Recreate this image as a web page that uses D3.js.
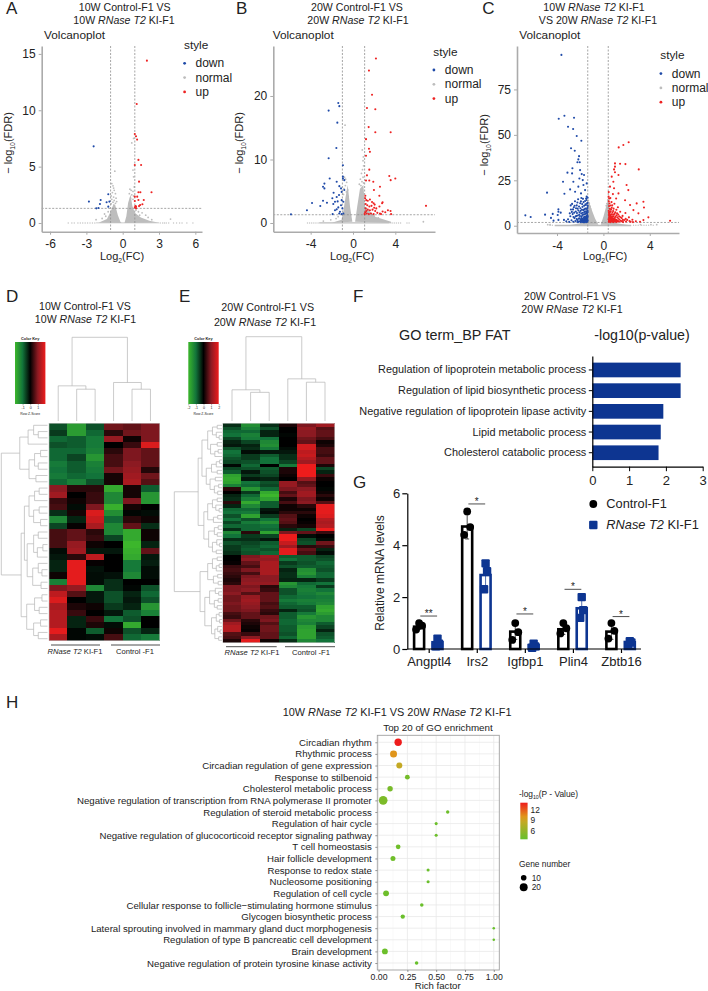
<!DOCTYPE html>
<html>
<head>
<meta charset="utf-8">
<script src="https://cdn.jsdelivr.net/npm/d3@7"></script>
<style>
  body { margin: 0; background: #fff; }
  text { font-family: "Liberation Sans", Arial, sans-serif; fill: #222; }
</style>
</head>
<body>
<svg id="fig" width="708" height="991"></svg>
<script>
// volcano A (log2FC, -log10FDR)
let aDown = [[-2.4,6.8],[-1.19,2.55],[-1.82,2.04],[-2.79,1.9],[-1.88,1.69],[-1.1,1.9],[-1.33,1.84],[-1.19,1.45],[-2.18,1.3],[-2,1.33]]
let aUp = [[2,14.4],[1.16,10.55],[1,7.9],[1.1,7.7],[1.19,7.4],[1.3,5.6],[1,5.15],[1.52,5.15],[1.35,3.67],[1.3,2.73],[1.46,2.73],[2.38,2.73],[1,2.34],[1.2,2.34],[1.3,2.04],[1,1.95],[1.74,2.04],[1.44,1.6],[1.63,1.66],[1.05,1.5],[1.1,1.45],[1.35,1.5],[1,1.4],[1.1,1.3]]
let aNormal = [[-0.65,4.6],[-0.9,3.5],[-0.8,3.3],[-0.75,3.1],[-0.7,2.9],[-0.85,2.7],[-0.6,2.6],[-0.95,2.4],[-0.75,2.3],[-0.55,2.2],[-0.9,2.1],[-0.7,2],[-0.5,1.9],[-0.8,1.85],[-0.95,1.7],[-0.6,1.75],[-1.2,1],[0.75,7.1],[0.9,7.5],[0.85,4.7],[0.9,4.1],[0.6,3],[0.7,2.9],[0.85,2.8],[0.55,2.6],[0.75,2.5],[0.9,2.4],[0.95,3.2],[0.65,2.2],[0.85,2.1],[1.3,1],[1.6,0.9],[1.9,0.7],[2.1,0.5],[2.4,0.3],[3.95,0.35],[-2.2,0.3],[-1.5,0.8],[-1.4,0.6],[-1.7,0.4],[1.1,1.15],[1.4,0.7]]
let aWingL = [[-2,0.02],[-1.3,0.35],[-1,1],[-0.75,1.7],[-0.62,1.6],[-0.4,0.7],[-0.18,0.1],[-0.1,0]]
let aWingR = [[0.15,0],[0.3,0.6],[0.45,1.8],[0.65,2.5],[0.8,1.5],[1,0.9],[1.5,0.5],[2.2,0.2],[3,0.03]]
let aBase = [-4.5,-4.2,-4,-3.7,-3.5,-3.3,-3.1,-2.9,-2.7,-2.5,-2.3,3.1,3.3,3.45,3.6,3.8,4.2,4.45,4.7,4.9,5.3,5.8]

// volcano B
let bDown = [[-1.39,18.9],[-1.29,18.4],[-2.3,17.7],[-1.48,15.8],[-1.57,11.8],[-2.3,10.2],[-0.95,9.1],[-0.95,7.3],[-0.82,6.75],[-2.2,7],[-1.54,6.5],[-2.7,6.2],[-2.83,5.7],[-2.7,5.45],[-1.29,5.8],[-1.13,5.45],[-0.82,5.2],[-1.83,4.76],[-1.07,4.9],[-3.87,3.14],[-2.83,3.5],[-2.46,3.2],[-3.09,2.67],[-1.95,3.9],[-1.54,4.1],[-1.32,4.4],[-1.7,3.35],[-1.86,3],[-1.45,3.4],[-1.07,3.6],[-0.91,3.35],[-4.35,2],[-5.86,1.36],[-1.92,1.4],[-1.7,2],[-1.39,2.46],[-1.13,2.8],[-1,2.3],[-1.23,1.78],[-0.91,1.5],[-1.3,1.5],[-1.07,1.4],[-1.54,2.15],[-0.95,7]]
let bUp = [[2.17,25.9],[1.51,24],[1.8,20.2],[1.32,18.1],[2.11,17.9],[1.48,15.1],[2.11,14.3],[3.56,14.3],[1.23,13.2],[1.51,11.7],[1.6,11.2],[1.23,10.6],[1.54,8.4],[1.32,7.5],[3.43,7.4],[3.56,6.75],[4,7],[1.23,6.7],[1.54,6.7],[1.92,6.5],[2.55,5.7],[1.98,5.2],[1.17,4.3],[2.49,4.3],[6.9,2.7],[2.8,3.25],[1.15,3.9],[1.25,3.6],[1.4,3.5],[1.6,3.7],[1.8,3.3],[1.95,3.1],[2.05,2.9],[1.2,3],[1.35,2.8],[1.55,2.6],[1.75,2.7],[2,2.4],[1.2,2.3],[1.4,2.1],[1.6,2],[1.85,2.1],[2.1,1.9],[2.3,1.6],[2.55,1.5],[2.8,1.8],[3.05,1.7],[3.3,2],[3.55,1.9],[1.15,1.7],[1.3,1.5],[1.5,1.4],[1.7,1.5],[1.95,1.4],[2.2,2.3],[2.5,2.6],[2.75,3.1],[3.6,1.4],[1.1,1.4],[1.25,1.9],[2.65,1.4]]
let bNormal = [[-0.75,15.4],[-0.8,7.2],[-0.7,6.9],[-0.6,6.4],[-0.72,5.9],[-0.85,5.4],[-0.5,5.2],[-0.62,4.9],[-0.9,4.5],[-0.45,4.2],[0.98,10.4],[0.88,11.5],[0.95,9.8],[1,9],[0.9,8.4],[0.8,7.8],[0.95,7.2],[0.7,6.9],[0.85,6.5],[1,6.3],[0.6,6.1],[0.75,5.9],[1.1,3],[1.3,1.9],[1.6,1.2],[2,1.1],[2.4,0.8],[-1.4,1],[-1.6,0.7],[-2.1,0.5],[-2.8,0.3],[6.65,0.2]]
let bWingL = [[-2,0.05],[-1.07,0.5],[-0.9,2],[-0.7,4.1],[-0.5,6],[-0.28,2.6],[-0.06,0.2]]
let bWingR = [[0.2,0.2],[0.4,2.6],[0.66,5.4],[0.98,6],[1.13,2.6],[2.1,1],[3.6,0.2],[3.6,0]]
let bBase = [-4.3,-4.1,-3.9,-3.7,-3.5,-3.3,3.5,3.7,3.9,4.1,4.3,4.5,5.1,5.3]

// volcano C
let cDown = [[-3.62,94],[-3.36,60.5],[-3.85,58.9],[-2.53,59.4],[-3.05,54.5],[-2.61,53.2],[-2.3,49.4],[-1.9,46.8],[-2.79,42.6],[-2.47,41.3],[-2.1,38.3],[-2.16,36.5],[-2.24,34.9],[-2.04,34.9],[-2.67,31.6],[-2.01,30.6],[-3.1,29.2],[-2.7,28.8],[-1.87,28.4],[-1.67,27.9],[-3.48,24.2],[-2.59,24.2],[-2.07,26],[-1.78,25.1],[-4.86,18.2],[-2.87,20],[-3.36,17.6],[-2.44,18.7],[-2.16,21.5],[-1.72,22.4],[-1.44,23.3],[-1.58,19.6],[-1.93,17.8],[-1.44,16],[-6.73,5.7],[-6.27,4.8],[-5.03,6.1],[-3.88,9],[-3.88,7.7],[-4.37,6.5],[-3.94,5.9],[-3.68,7.2],[-4.52,4.3],[-3.88,3.2],[-4.3,2.8],[-3.4,3.2],[-3.2,2.4],[-3.05,3.6],[-2.95,2.1],[-2.85,5.2],[-2.8,8.9],[-2.75,3],[-2.7,12],[-2.65,6.4],[-2.6,2.2],[-2.55,10.2],[-2.5,4.2],[-2.45,13.5],[-2.42,2.6],[-2.38,7.8],[-2.33,5.4],[-2.3,11.2],[-2.25,3.1],[-2.22,9.4],[-2.18,14.6],[-2.12,2.3],[-2.08,6.2],[-2.04,4.1],[-2,12.4],[-1.96,8.2],[-1.93,2.7],[-1.9,15.3],[-1.87,5.2],[-1.84,3.3],[-1.8,10.4],[-1.77,7.1],[-1.74,2.2],[-1.71,13],[-1.68,4.6],[-1.65,9],[-1.62,2.9],[-1.6,6.3],[-1.57,3.8],[-1.55,11.8],[-1.52,2.4],[-1.5,8],[-1.48,5.1],[-1.46,14.2],[-1.44,3.2],[-1.42,6.9],[-1.4,2.3],[-1.38,9.8],[-1.37,4.4],[-1.36,12.6],[-1.35,2.7],[-1.35,7.5],[-1.95,1.9],[-2.2,2],[-1.7,1.9],[-1.45,2],[-1.6,1.9],[-1.8,2.1],
  [-2.9,6.8],[-2.82,11.2],[-2.72,7.6],[-2.62,9],[-2.58,4.8],[-2.52,7.2],[-2.48,11],[-2.4,5.1],[-2.36,9.6],[-2.31,3.7],[-2.28,7],[-2.24,12.8],[-2.2,5.6],[-2.16,8.4],[-2.14,3.9],[-2.1,10.6],[-2.06,7.4],[-2.02,5.3],[-1.98,9.6],[-1.97,3.4],[-1.94,13.4],[-1.91,6.8],[-1.88,4.2],[-1.85,8.8],[-1.83,11.9],[-1.8,5.9],[-1.78,3.8],[-1.76,14.8],[-1.73,8.6],[-1.7,6.2],[-1.69,3.4],[-1.66,11],[-1.63,7.6],[-1.61,4.9],[-1.58,13.6],[-1.56,9.4],[-1.54,6.7],[-1.53,3.4],[-1.51,11.4],[-1.49,15],[-1.47,7.4],[-1.45,4.6],[-1.43,9.2],[-1.41,12.2],[-1.39,5.8],[-1.38,3.4],[-1.37,8.4],[-1.36,15.4],[-1.35,10.9],[-1.35,5.2]]
let cUp = [[1.32,43.1],[1.72,44.4],[2.18,45.9],[1,34.3],[1.44,34.1],[1.9,33.9],[1,32.5],[0.92,31],[3.05,31],[1,29.4],[0.72,27],[1.3,27.9],[0.86,24.2],[0.57,21.5],[2,22.4],[2.15,19.6],[0.92,20.6],[1.3,17.8],[3.45,13.2],[2.87,12.3],[1.87,14],[2.3,11.4],[2.59,8.6],[3.02,6.8],[3.5,10],[3.88,4.6],[3.45,3.1],[3.16,2.2],[5.75,2.75],[0.45,16],[0.47,13.4],[0.49,10.8],[0.46,8.2],[0.48,5.9],[0.45,3.6],[0.47,2.2],[0.52,12.2],[0.55,9.3],[0.53,6.8],[0.56,4.4],[0.54,2.7],[0.6,15.2],[0.62,11.1],[0.63,7.9],[0.61,5.2],[0.64,3.1],[0.6,2],[0.7,13],[0.72,9.9],[0.74,6.3],[0.71,4],[0.73,2.4],[0.82,17.4],[0.84,8.1],[0.86,5.1],[0.83,3.2],[0.85,2],[0.95,12.1],[0.97,6.6],[0.99,4.2],[0.96,2.5],[1.1,15],[1.12,8.8],[1.14,5.8],[1.11,3.3],[1.13,2.1],[1.25,10.2],[1.28,6.2],[1.3,4],[1.27,2.4],[1.45,7.7],[1.48,4.7],[1.5,2.7],[1.65,5.4],[1.68,3.2],[1.7,2],[1.9,7],[1.92,3.8],[1.95,2.3],[2.2,4.6],[2.25,2.6],[2.5,3.3],[2.55,2],[2.8,2.5],
  [0.46,18.5],[0.5,15],[0.48,7.2],[0.51,4.6],[0.5,3],[0.57,7.6],[0.58,5.6],[0.58,3.4],[0.66,9],[0.66,6.2],[0.67,4.5],[0.67,2.7],[0.76,11.2],[0.78,7.3],[0.79,5.2],[0.78,3.5],[0.88,9.4],[0.9,6.1],[0.91,3.9],[0.9,2.4],[1.02,7.4],[1.04,5],[1.05,3.1],[1.18,6.9],[1.2,4.6],[1.2,2.8],[1.36,5.2],[1.38,3.3],[1.58,4.2],[1.6,2.5],[1.8,3.1],[2.05,3.2],[2.35,2.2]]
let cNormal = [[-1.3,14],[-1.22,12.4],[-1.15,10.6],[-1.1,9.2],[0.38,14.2],[0.3,12.2],[0.25,11],[0.42,9],[-4.8,0.6],[-4.6,0.6],[4.1,0.6],[4.6,0.6],[3.2,0.6]]
let cWingL = [[-2.87,0.4],[-1.72,1.6],[-1.35,10.5],[-1.26,13.6],[-1,8.6],[-0.72,4],[-0.43,0.5]]
let cWingR = [[-0.23,0.5],[0,5],[0.23,10.5],[0.43,15],[0.57,6.8],[1.15,1.3],[2.3,0.2]]
let cBase = [-4.6,-4.4,2.6,2.8,3,3.3,3.5,3.7,3.9,4.3]
// the parts of C where the dots merge into a solid patch
let cSolidDown = [[-2.5,1.9],[-1.35,1.9],[-1.35,7],[-1.6,4.5],[-2,3]]
let cSolidUp = [[0.43,1.9],[1.6,1.9],[1.2,3.2],[0.8,4.6],[0.43,7.4]]

let styleNames = ['down', 'normal', 'up']

// heatmap D rows, six samples per row, z-score
let heatD = [
  [-0.7,-1.6,-0.7,0.8,0.7,0.9],[-0.5,-1.6,-0.9,0.3,0.8,0.9],[-0.9,-0.8,-1.1,1.1,0.1,0.9],[-0.7,-0.8,-1.1,0,0.4,1.8],[-0.9,-0.9,-1.2,0.3,0.9,0.7],
  [-0.9,-0.6,-1.5,0.5,0.9,0.7],[-1.1,-0.8,-1.2,0.5,1,0.7],[-1,-0.8,-1.1,0.8,1.1,0.25],[-1.1,-0.9,-1,0.15,1.2,0.8],[-0.9,-1.2,-0.7,0.15,1.3,0.6],
  [1,0.3,0.3,-1.8,0.15,-0.8],[1.2,0,0.4,-1.3,0.15,-1.5],[0.4,0.1,0.4,-1.3,0.9,-1.5],[0.5,-0.1,0.9,-1.9,0.15,0],[-0.4,0.15,1.8,-1.4,-0.05,-0.1],
  [-1.3,-0.3,1.6,-0.9,0.3,0.1],[-0.6,0.05,1.3,-1.3,0.7,-0.4],[0.5,0.7,0.3,-1.3,-1.8,0.1],[0.5,0.7,0.4,-0.6,-1.8,0.1],[0.5,1.1,0.1,0,-2,-0.3],
  [-0.1,1.2,-0.2,-0.2,-1.9,0.7],[-0.2,0.3,1.5,0,-1.8,-0.2],[-0.3,1.9,0.05,0,-1.1,-0.25],[-0.3,1.9,-0.15,0,-1.1,-0.1],[0.1,1.9,-0.1,-0.15,-1.3,-0.1],
  [-1.2,1.9,-0.1,-0.4,0,0],[0.9,1.1,-1.3,-0.4,-0.05,-0.7],[1.5,0.6,-0.2,-0.7,-0.3,-0.9],[1.8,0,-0.2,-0.7,-0.2,-0.7],[1.3,0.2,0.1,-0.5,-0.3,-1.5],
  [1.4,0.4,0,-0.2,-0.8,-1.2],[1.4,-0.3,0.4,-1,-0.7,0],[1.4,-0.3,0.2,-0.1,-1.8,0],[1.9,-0.05,-0.8,0.1,-0.7,-0.3],[1.3,-0.05,-0.1,0.5,-0.9,-1.1]
]

// heatmap E rows
let heatE = [
  [-0.4,-1.4,-0.4,0.2,0.9,1.2],[-0.7,-1.2,-0.7,0,1.1,0.6],[-0.9,-0.9,-0.3,0,1,0.7],[-1,-1.2,-0.3,-0.05,1,0.7],[-0.6,-1.1,-1,0,0.8,0.5],
  [-0.3,-0.6,-1.3,0,0.7,0.1],[-0.2,-0.3,-1.4,0,1.7,0.2],[-0.7,-0.4,-1.1,-0.1,1.7,0.5],[-1,-0.1,-0.2,-0.2,1.5,0.5],[-0.9,-0.5,-0.8,-0.4,1.6,0.4],
  [-0.7,-0.5,-1,-0.4,1.4,0.7],[-0.6,-0.7,-1,-0.6,1.2,0.7],[-0.05,-0.9,0,-1.1,2,0.2],[-0.6,-0.7,-0.8,0.2,2,-0.6],[-0.8,-0.2,-0.7,0.2,2,-0.3],
  [-1.7,-0.5,-0.6,0.1,2,0.4],[-1.8,-0.2,-0.3,0,1.1,0.1],[-1.7,-1,-0.7,1.1,0.6,0],[-1.2,-0.9,-0.6,1.1,0.7,0],[0.3,-1.5,-0.9,0.9,1,-0.05],
  [0,-0.5,-1.8,0.5,1.2,0.1],[-0.3,-0.9,-2,0.7,1.2,0.3],[-0.4,-1.2,-1.7,0.2,0.9,0.1],[0.3,-1.8,-0.8,0.5,1,0.6],[-0.3,-1.3,-0.8,0.1,0.3,1.9],
  [-0.9,-0.9,-0.2,0.1,0.1,1.9],[-1,-1.1,-0.1,0.3,0.3,1.9],[-0.7,-1.7,-0.5,0.6,0.1,1.8],[-1,-0.7,-1,0.7,0,1.4],[-0.6,-1.1,-1.4,0.6,0.05,1.3],
  [-0.9,-0.9,-1,0.3,0.15,1.4],[-0.4,-0.9,-0.9,-0.3,-0.6,2],[-1.3,0.3,-1.7,0.9,0.7,0.4],[-1,-0.5,-0.6,2,-0.1,0],[-0.4,-0.4,-0.2,2,-0.6,-0.1],
  [-0.7,-0.6,-0.8,1.6,-0.7,0.8],[-0.5,-0.7,-0.9,1.2,0.3,0.4],[-0.5,-0.8,-0.7,1.9,0.7,-0.3],[-0.4,-0.7,-0.9,1.9,0.5,-0.1],[0,0.9,1.2,-0.8,-0.8,-0.6],
  [0,1,1.1,-1,-0.8,-0.7],[0.05,0.7,1.3,-0.5,-0.7,-0.9],[0.4,0.5,1.3,-0.7,-0.8,-0.8],[0.5,0.9,1.3,-0.3,-1.4,-0.7],[0.4,0.5,1.3,-0.4,-1.5,-0.9],
  [0.3,0.9,1,-0.4,-1.2,-0.9],[0.2,1,1,-0.3,-0.3,-0.5],[0.3,1.1,1.1,-1.5,-0.9,-1],[0.9,0.9,0.3,-1.3,-1.1,-0.5],[0.9,1,0.4,-0.7,-1.2,-1],
  [1,0.6,0.7,-0.7,-1.1,-1.3],[0.8,1.1,0.7,-0.9,-1,-1.1],[0.8,1.2,0.7,-1.1,-1.2,-1.2],[0.9,1.1,0.5,-0.9,-1.1,-1.3],[0.8,1,0.6,-0.8,-0.8,-1.7],
  [0.8,0.9,0.4,-0.3,-0.7,-1.8],[0.5,0.7,0.3,-0.8,-1.1,-1.6],[0.4,0.7,0.8,-0.8,-1.5,-1.3],[0.8,0.3,0.9,-0.9,-1.3,-1.3],[1.2,0.2,0.6,-0.9,-1.2,-0.8],
  [1.4,0.1,0.8,-0.8,-1.6,-0.6],[1.4,0.05,0.8,-0.8,-1.7,-0.3],[0.6,0.4,0.7,-0.7,-1.7,-0.7],[0.5,1,0.7,-0.9,-1.7,-0.8],[0.2,1.9,0.1,-0.4,-1.3,-1]
]

// dendrograms: [height, left, right], a 0 is a leaf
let treeTopD = [1,[0.42,0,[0.38,0,0]],[0.46,0,[0.38,0,0]]]
let treeTopE = [1,[0.37,0,[0.34,0,0]],[0.5,0,[0.46,0,0]]]
let treeSideD = [1,
  [0.6,[0.42,[0.3,0,[0.2,0,0]],0],[0.4,[0.28,[0.15,0,0],[0.2,0,0]],[0.25,0,0]]],
  [0.57,
    [0.5,[0.4,[0.28,[0.18,0,0],0],[0.3,[0.18,0,0],[0.15,0,0]]],[0.44,[0.3,[0.2,0,0],[0.22,[0.1,0,0],0]],[0.32,[0.2,0,[0.12,0,0]],[0.14,0,0]]]],
    [0.45,[0.28,[0.12,0,0],[0.18,0,0]],[0.3,[0.15,0,0],[0.2,0,0]]]]]
let treeSideE = [1,
  [0.5,
    [0.42,[0.3,[0.2,[0.1,0,0],[0.12,0,[0.06,0,0]]],[0.24,[0.1,0,0],[0.15,[0.08,0,0],0]]],[0.33,[0.22,[0.12,[0.05,0,0],0],[0.1,0,0]],[0.25,[0.14,0,0],[0.16,[0.07,0,0],[0.09,0,0]]]]],
    [0.38,[0.3,[0.2,[0.1,0,0],[0.13,0,[0.06,0,0]]],[0.18,[0.09,0,0],0]],[0.28,[0.16,[0.08,0,0],[0.1,0,0]],[0.2,[0.11,0,[0.05,0,0]],[0.12,0,0]]]]],
  [0.46,
    [0.3,[0.2,[0.1,0,0],[0.12,[0.06,0,0],0]],[0.18,[0.09,0,0],[0.08,0,0]]],
    [0.36,[0.26,[0.14,0,[0.07,0,0]],[0.16,[0.08,0,0],[0.1,0,0]]],[0.22,[0.12,[0.06,0,0],[0.05,0,0]],[0.15,[0.09,0,[0.04,0,0]],[0.07,0,0]]]]]]

// panel F
let goTerms = ['Regulation of lipoprotein metabolic process','Regulation of lipid biosynthetic process','Negative regulation of lipoprotein lipase activity','Lipid metabolic process','Cholesterol catabolic process']
let goValues = [2.4,2.4,1.93,1.86,1.8]

// panel G
let genes = ['Angptl4','Irs2','Igfbp1','Plin4','Zbtb16']
let controlMeans = [0.86,4.72,0.67,0.76,0.67]
let knockinMeans = [0.26,2.85,0.15,1.57,0.27]
let controlSd = [0.1,0.48,0.3,0.2,0.3]
let knockinSd = [0.15,0.5,0.07,0.4,0.08]
let controlPoints = [[0.75,0.9,1],[4.4,4.7,5.3],[0.35,0.65,1],[0.6,0.8,1],[0.4,0.7,1]]
let knockinPoints = [[0.1,0.2,0.4],[2.3,3,3.3],[0.05,0.1,0.2],[1.2,1.5,2],[0.15,0.25,0.3]]
let sigStars = ['**','*','*','*','*']
let sigHeights = [1.27,5.59,1.35,2.3,1.25]

// panel H
let bpTerms = ['Circadian rhythm','Rhythmic process','Circadian regulation of gene expression','Response to stilbenoid','Cholesterol metabolic process','Negative regulation of transcription from RNA polymerase II promoter','Regulation of steroid metabolic process','Regulation of hair cycle','Negative regulation of glucocorticoid receptor signaling pathway','T cell homeostasis','Hair follicle development','Response to redox state','Nucleosome positioning','Regulation of cell cycle','Cellular response to follicle\u2212stimulating hormone stimulus','Glycogen biosynthetic process','Lateral sprouting involved in mammary gland duct morphogenesis','Regulation of type B pancreatic cell development','Brain development','Negative regulation of protein tyrosine kinase activity']
let richFactor = [0.17,0.13,0.18,0.25,0.1,0.04,0.6,0.5,0.5,0.17,0.125,0.43,0.43,0.065,0.375,0.21,1,1,0.055,0.33]
let geneNumber = [17.5,15.6,11.5,7.4,9.3,24,3.7,3,3,7,8,3,3,11,4,6,2,2,11,4]
let logP = [14,10,8.5,4.2,4.4,4.6,3.8,3.7,3.7,3.9,3.9,3.6,3.6,3.8,3.6,3.6,3.5,3.5,3.7,3.5]

let svg = d3.select('#fig')

let blue = '#0d3591'
let heatColor = d3.scaleLinear().domain([-2,-1,0,1,2]).range(['#3cb62c','#12733a','#000000','#8c1a22','#ee1c1c'])
let dotColor = {down: '#1f4aa8', normal: '#bdbdbd', up: '#ee2222'}

// text with *italic* parts
let addText = (x, y, str, size, anchor) => {
    let t = svg.append('text').attr('x', x).attr('y', y).attr('font-size', size).attr('text-anchor', anchor || 'start')
    str.split('*').forEach((part, i) => {
        t.append('tspan').attr('font-style', i % 2 ? 'italic' : 'normal').text(part)
    })
    return t
}

// text with a subscript in the middle
let addSub = (g, before, sub, after, size) => {
    let t = g.append('text').attr('font-size', size)
    t.append('tspan').text(before)
    t.append('tspan').attr('dy', size * 0.3).attr('font-size', size * 0.62).text(sub)
    t.append('tspan').attr('dy', -size * 0.3).text(after)
    return t
}

// volcano panels
let drawVolcano = (p) => {
    let x = d3.scaleLinear().domain(p.xDomain).range([p.left, p.right])
    let y = d3.scaleLinear().domain(p.yDomain).range([p.bottom, p.top])
    let g = svg.append('g')

    let line = d3.line().x(d => x(d[0])).y(d => y(d[1]))
    let patch = (points, colour) => {
        g.append('path')
            .attr('d', line(points) + 'Z')
            .attr('fill', colour)
    }
    patch(p.wingL, dotColor.normal)
    patch(p.wingR, dotColor.normal)
    // the solid strip along y = 0
    patch(p.strip, dotColor.normal)

    let dots = (list, colour, r) => {
        g.selectAll(null).data(list).enter().append('circle')
            .attr('cx', d => x(d[0]))
            .attr('cy', d => y(d[1]))
            .attr('r', r)
            .attr('fill', colour)
    }
    dots(p.base.map(v => [v, p.baseY]), '#c4c4c4', 0.7)
    dots(p.normal, dotColor.normal, 0.9)

    // thresholds
    p.vlines.forEach(v => {
        g.append('line').attr('x1', x(v)).attr('x2', x(v)).attr('y1', p.top).attr('y2', p.bottom)
            .attr('stroke', '#8f8f8f').attr('stroke-width', 0.8).attr('stroke-dasharray', '2,1.5')
    })
    g.append('line').attr('x1', p.left).attr('x2', p.right).attr('y1', y(p.hline)).attr('y2', y(p.hline))
        .attr('stroke', '#8f8f8f').attr('stroke-width', 0.8).attr('stroke-dasharray', '2,1.5')

    if (p.solidDown) {
        patch(p.solidDown, dotColor.down)
        patch(p.solidUp, dotColor.up)
    }
    dots(p.down, dotColor.down, 1.05)
    dots(p.up, dotColor.up, 1.05)

    let xAxis = d3.axisBottom(x).tickValues(p.xTicks).tickFormat(d => d).tickSize(3).tickSizeOuter(0).tickPadding(5)
    let yAxis = d3.axisLeft(y).tickValues(p.yTicks).tickFormat(d => d).tickSize(3).tickSizeOuter(0).tickPadding(3)
    g.append('g').attr('transform', 'translate(0,' + p.bottom + ')').call(xAxis)
    g.append('g').attr('transform', 'translate(' + p.left + ',0)').call(yAxis)
    g.selectAll('.domain').attr('stroke', '#ababab').attr('stroke-width', 1.6)
    g.selectAll('.tick line').attr('stroke', '#ababab')
    g.selectAll('.tick text').attr('font-size', 12).attr('fill', '#333')

    addSub(g, 'Log', '2', '(FC)', 11)
        .attr('x', p.xLabelX).attr('y', 260).attr('text-anchor', 'middle')
    addSub(g, '\u2212 log', '10', '(FDR)', 11)
        .attr('text-anchor', 'middle')
        .attr('transform', 'translate(' + p.yLabelX + ',' + p.yLabelY + ') rotate(-90)')

    addText(p.plotX, 38.5, 'Volcanoplot', 11.8)
    p.titles.forEach((s, i) => addText(p.titleX[i], 11 + i * 13, s, 10.6, 'middle'))
    addText(p.legendX, p.legendY, 'style', 11.8)
    styleNames.forEach((name, i) => {
        let cy = p.legendY + 14.3 + i * 14.3
        svg.append('circle').attr('cx', p.legendX + 0.6).attr('cy', cy).attr('r', 1.4).attr('fill', dotColor[name])
        addText(p.legendX + 11.5, cy + 4, name, 12)
    })
}

// dendrogram from nested arrays
let countLeaves = (n) => n === 0 ? 1 : countLeaves(n[1]) + countLeaves(n[2])

let drawTree = (tree, leafPos, heightPos, sideways) => {
    let i = 0
    let d = ''
    let walk = (n) => {
        if (n === 0) {
            return {p: leafPos(i++), h: 0}
        }
        let a = walk(n[1])
        let b = walk(n[2])
        let h = heightPos(n[0])
        if (sideways) {
            d += 'M' + heightPos(a.h) + ',' + a.p + 'H' + h + 'V' + b.p + 'H' + heightPos(b.h)
        } else {
            d += 'M' + a.p + ',' + heightPos(a.h) + 'V' + h + 'H' + b.p + 'V' + heightPos(b.h)
        }
        return {p: (a.p + b.p) / 2, h: n[0]}
    }
    walk(tree)
    svg.append('path').attr('d', d).attr('fill', 'none').attr('stroke', '#b4b4b4').attr('stroke-width', 0.7)
}

let drawHeat = (p) => {
    let x = d3.scaleBand().domain(d3.range(6)).range([p.left, p.right])
    let y = d3.scaleBand().domain(d3.range(p.rows.length)).range([p.top, p.bottom])
    let g = svg.append('g').attr('shape-rendering', 'crispEdges')
    p.rows.forEach((row, r) => {
        g.selectAll(null).data(row).enter().append('rect')
            .attr('x', (d, c) => x(c))
            .attr('y', y(r))
            .attr('width', x.bandwidth() + 0.5)
            .attr('height', y.bandwidth() + 0.5)
            .attr('fill', d => heatColor(d))
    })
    svg.append('rect').attr('x', p.left).attr('y', p.top).attr('width', p.right - p.left).attr('height', p.bottom - p.top)
        .attr('fill', 'none').attr('stroke', '#c8c8c8').attr('stroke-width', 0.6)

    let colCenter = (c) => x(c) + x.bandwidth() / 2
    drawTree(p.treeTop, colCenter, d3.scaleLinear().domain([0, 1]).range(p.topRange), false)
    let leafY = d3.scalePoint().domain(d3.range(countLeaves(p.treeSide))).range([p.top + 2, p.bottom - 2])
    drawTree(p.treeSide, leafY, d3.scaleLinear().domain([0, 1]).range(p.sideRange), true)

    // colour key
    let keyX = d3.scaleLinear().domain(p.keyDomain).range([p.keyLeft, p.keyLeft + 30.4])
    let gradId = 'key' + Math.round(p.keyLeft)
    let grad = svg.append('defs').append('linearGradient').attr('id', gradId)
    d3.range(-2, 2.01, 0.5).forEach(v => {
        grad.append('stop').attr('offset', ((v + 2) / 4 * 100) + '%').attr('stop-color', heatColor(v))
    })
    svg.append('rect').attr('x', p.keyLeft).attr('y', 342).attr('width', 30.4).attr('height', 62).attr('fill', 'url(#' + gradId + ')')
    addText(p.keyLeft + 15.2, 340, 'Color Key', 3.9, 'middle').attr('font-weight', 'bold')
    let axis = d3.axisBottom(keyX).tickValues(p.keyTicks).tickFormat(d => d).tickSize(1.5).tickSizeOuter(0).tickPadding(1)
    let ag = svg.append('g').attr('transform', 'translate(0,404)').call(axis)
    ag.select('.domain').remove()
    ag.selectAll('text').attr('font-size', 3.6).attr('fill', '#444')
    ag.selectAll('line').attr('stroke', '#444').attr('stroke-width', 0.4)
    addText(p.keyLeft + 15.2, 415, 'Row Z-Score', 3.4, 'middle').attr('fill', '#444')

    // sample groups
    p.groups.forEach(gr => {
        svg.append('line').attr('x1', gr[0]).attr('x2', gr[1]).attr('y1', p.groupLine).attr('y2', p.groupLine)
            .attr('stroke', '#222').attr('stroke-width', 0.8)
        addText(gr[2], p.groupText, gr[3], 7.6, 'middle')
    })
}

let volcanoA = {
    xDomain: [-6.69, 6.55], yDomain: [-0.77, 15.7], left: 41.7, right: 202, top: 46, bottom: 231.7,
    xTicks: [-6, -3, 0, 3, 6], yTicks: [0, 5, 10, 15], vlines: [-1, 1], hline: 1.3,
    down: aDown, up: aUp, normal: aNormal, wingL: aWingL, wingR: aWingR, base: aBase, baseY: 0,
    strip: [[-2.2,-0.03],[3,-0.03],[3,0.05],[-2.2,0.05]],
    xLabelX: 122, yLabelX: 12, yLabelY: 143, plotX: 44, legendX: 184, legendY: 49,
    titles: ['10W Control-F1 VS', '10W *RNase T2* KI-F1'], titleX: [124.7, 124]
}
let volcanoB = {
    xDomain: [-7.53, 7.75], yDomain: [-1.37, 27.87], left: 273.3, right: 435, top: 46, bottom: 231.7,
    xTicks: [-4, 0, 4], yTicks: [0, 10, 20], vlines: [-1, 1.1], hline: 1.3,
    down: bDown, up: bUp, normal: bNormal, wingL: bWingL, wingR: bWingR, base: bBase, baseY: 0,
    strip: [[-3.2,-0.06],[3.4,-0.06],[3.4,0.1],[-3.2,0.1]],
    xLabelX: 352, yLabelX: 243, yLabelY: 143, plotX: 272.7, legendX: 433.3, legendY: 55.7,
    titles: ['20W Control-F1 VS', '20W *RNase T2* KI-F1'], titleX: [357, 358]
}
let volcanoC = {
    xDomain: [-7.45, 6.52], yDomain: [-4, 98.9], left: 517, right: 679, top: 46, bottom: 233,
    xTicks: [-4, 0, 4], yTicks: [0, 25, 50, 75], vlines: [-1.35, 0.42], hline: 1.8,
    down: cDown, up: cUp, normal: cNormal, wingL: cWingL, wingR: cWingR, base: cBase, baseY: 0.3,
    solidDown: cSolidDown, solidUp: cSolidUp,
    strip: [[-4.2,-0.3],[2.4,-0.3],[2.4,0.6],[-4.2,0.6]],
    xLabelX: 605, yLabelX: 488, yLabelY: 145, plotX: 519.3, legendX: 660.3, legendY: 59.3,
    titles: ['10W *RNase T2* KI-F1', 'VS 20W *RNase T2* KI-F1'], titleX: [594, 598]
}
drawVolcano(volcanoA)
drawVolcano(volcanoB)
drawVolcano(volcanoC)

drawHeat({
    rows: heatD, left: 49, right: 159.7, top: 423.3, bottom: 640.7,
    treeTop: treeTopD, treeSide: treeSideD, topRange: [421, 337.3], sideRange: [47.5, 1.3],
    keyLeft: 15, keyDomain: [-2, 2], keyTicks: [-1, 0, 1],
    groups: [[51, 100, 75, '*RNase T2* KI-F1'], [111, 160, 135, 'Control -F1']], groupLine: 645, groupText: 654
})
drawHeat({
    rows: heatE, left: 222.7, right: 334.3, top: 423.3, bottom: 642.3,
    treeTop: treeTopE, treeSide: treeSideE, topRange: [421, 336.7], sideRange: [222, 174.3],
    keyLeft: 188.3, keyDomain: [-2, 2], keyTicks: [-2, -1, 0, 1, 2],
    groups: [[226, 276.7, 252, '*RNase T2* KI-F1'], [285, 335, 311, 'Control -F1']], groupLine: 646.7, groupText: 654.7
})
addText(85, 310, '10W Control-F1 VS', 10.6, 'middle')
addText(85.5, 323, '10W *RNase T2* KI-F1', 10.6, 'middle')
addText(267.7, 310.7, '20W Control-F1 VS', 10.7, 'middle')
addText(265, 326, '20W *RNase T2* KI-F1', 10.7, 'middle')

// bars of panel F
let drawBars = () => {
    let x = d3.scaleLinear().domain([0, 3]).range([592.3, 702.7])
    let y = d3.scaleBand().domain(goTerms).range([356, 466.7]).paddingInner(0.29).paddingOuter(0.32)
    svg.selectAll(null).data(goTerms).enter().append('rect')
        .attr('x', x(0))
        .attr('y', d => y(d))
        .attr('width', (d, i) => x(goValues[i]) - x(0))
        .attr('height', y.bandwidth())
        .attr('fill', blue)
    let xg = svg.append('g').attr('transform', 'translate(0,466.7)')
        .call(d3.axisBottom(x).tickValues([0, 1, 2, 3]).tickFormat(d => d).tickSize(4.5).tickSizeOuter(0).tickPadding(5))
    let yg = svg.append('g').attr('transform', 'translate(592.3,0)')
        .call(d3.axisLeft(y).tickSize(3.5).tickSizeOuter(0).tickPadding(2.5))
    xg.selectAll('text').attr('font-size', 13).attr('fill', '#222')
    yg.selectAll('text').attr('font-size', 10.9).attr('fill', '#222')
    xg.select('.domain').attr('stroke-width', 1.2)
    yg.select('.domain').attr('stroke-width', 1.2)
    addText(570, 300, '20W Control-F1 VS', 10.6, 'middle')
    addText(572, 313.3, '20W *RNase T2* KI-F1', 10.6, 'middle')
    addText(399, 340, 'GO term_BP FAT', 14.4)
    addText(594.3, 340, '-log10(p-value)', 14.2)
}
drawBars()

// bar and point chart of panel G
let drawMrna = () => {
    let x = d3.scalePoint().domain(genes).range([428.7, 621])
    let y = d3.scaleLinear().domain([0, 6]).range([649, 493.3])
    let groups = [
        {means: controlMeans, sd: controlSd, points: controlPoints, offset: -9.6, colour: '#000', square: false, jitter: [-3, 3, 0]},
        {means: knockinMeans, sd: knockinSd, points: knockinPoints, offset: 8.8, colour: blue, square: true, jitter: [-1.5, 1.5, 0]}
    ]
    groups.forEach(s => {
        genes.forEach((gene, i) => {
            let cx = x(gene) + s.offset
            svg.append('rect')
                .attr('x', cx - 5).attr('y', y(s.means[i]))
                .attr('width', 10).attr('height', y(0) - y(s.means[i]))
                .attr('fill', '#fff').attr('stroke', s.colour).attr('stroke-width', 2.6)
            svg.append('path')
                .attr('d', 'M' + (cx - 2) + ',' + y(s.means[i] + s.sd[i]) + 'H' + (cx + 2) + 'M' + cx + ',' + y(s.means[i] + s.sd[i]) + 'V' + y(Math.max(0, s.means[i] - s.sd[i])) + 'M' + (cx - 2) + ',' + y(Math.max(0, s.means[i] - s.sd[i])) + 'H' + (cx + 2))
                .attr('stroke', s.colour).attr('stroke-width', 0.7).attr('fill', 'none')
            s.points[i].forEach((v, j) => {
                if (s.square) {
                    svg.append('rect').attr('x', cx + s.jitter[j] - 4.2).attr('y', y(v) - 4.2).attr('width', 8.4).attr('height', 8.4).attr('rx', 1).attr('fill', s.colour)
                } else {
                    svg.append('circle').attr('cx', cx + s.jitter[j]).attr('cy', y(v)).attr('r', 3.9).attr('fill', s.colour)
                }
            })
        })
    })
    genes.forEach((gene, i) => {
        svg.append('line').attr('x1', x(gene) - 8.4).attr('x2', x(gene) + 8.4).attr('y1', y(sigHeights[i])).attr('y2', y(sigHeights[i]))
            .attr('stroke', '#222').attr('stroke-width', 0.8)
        // stars are written directly, addText would read them as italic marks
        svg.append('text').attr('x', x(gene)).attr('y', y(sigHeights[i]) + 1).attr('font-size', 10).attr('text-anchor', 'middle').text(sigStars[i])
    })
    let xg = svg.append('g').attr('transform', 'translate(0,649)')
        .call(d3.axisBottom(x).tickSize(4).tickSizeOuter(0).tickPadding(4))
    xg.select('.domain').remove()
    xg.selectAll('line').attr('stroke-width', 1.2)
    xg.selectAll('text').attr('font-size', 13).attr('fill', '#222')
    svg.append('line').attr('x1', 407.3).attr('x2', 641).attr('y1', 649).attr('y2', 649).attr('stroke', '#000').attr('stroke-width', 1.2)
    let yg = svg.append('g').attr('transform', 'translate(407.3,0)')
        .call(d3.axisLeft(y).tickValues([0, 2, 4, 6]).tickFormat(d => d).tickSize(5).tickSizeOuter(0).tickPadding(2))
    yg.select('.domain').attr('stroke-width', 1.2)
    yg.selectAll('line').attr('stroke-width', 1.2)
    yg.selectAll('text').attr('font-size', 13).attr('fill', '#222')
    addText(0, 0, 'Relative mRNA levels', 12, 'middle').attr('transform', 'translate(384,573) rotate(-90)')
    svg.append('circle').attr('cx', 593.3).attr('cy', 504).attr('r', 3.9).attr('fill', '#000')
    addText(606.3, 508, 'Control-F1', 12.8)
    svg.append('rect').attr('x', 589.1).attr('y', 520.8).attr('width', 8.4).attr('height', 8.4).attr('rx', 1).attr('fill', blue)
    addText(606.3, 529, '*RNase T2* KI-F1', 12.8)
}
drawMrna()

// bubble chart of panel H
let drawBubbles = () => {
    let x = d3.scaleLinear().domain([-0.011, 1.048]).range([377.3, 499.3])
    let y = d3.scalePoint().domain(bpTerms).range([735.3, 970]).padding(0.6)
    let r = d3.scaleSqrt().domain([0, 20]).range([0, 3.96])
    let colour = d3.scaleLinear().domain([3.4, 8.5, 10, 14]).range(['#66c02b', '#c4a924', '#e0951b', '#ee1c1c'])
    let ticks = [0, 0.25, 0.5, 0.75, 1]
    let minor = [0.125, 0.375, 0.625, 0.875]
    minor.forEach(v => {
        svg.append('line').attr('x1', x(v)).attr('x2', x(v)).attr('y1', 735.3).attr('y2', 970).attr('stroke', '#f3f3f3').attr('stroke-width', 0.5)
    })
    ticks.forEach(v => {
        svg.append('line').attr('x1', x(v)).attr('x2', x(v)).attr('y1', 735.3).attr('y2', 970).attr('stroke', '#e8e8e8').attr('stroke-width', 0.8)
    })
    bpTerms.forEach(t => {
        svg.append('line').attr('x1', 377.3).attr('x2', 499.3).attr('y1', y(t)).attr('y2', y(t)).attr('stroke', '#e8e8e8').attr('stroke-width', 0.8)
    })
    svg.selectAll(null).data(bpTerms).enter().append('circle')
        .attr('cx', (d, i) => x(richFactor[i]))
        .attr('cy', d => y(d))
        .attr('r', (d, i) => r(geneNumber[i]))
        .attr('fill', (d, i) => colour(logP[i]))
    svg.append('rect').attr('x', 377.3).attr('y', 735.3).attr('width', 122).attr('height', 234.7).attr('fill', 'none').attr('stroke', '#a0a0a0').attr('stroke-width', 0.9)

    let xg = svg.append('g').attr('transform', 'translate(0,970)')
        .call(d3.axisBottom(x).tickValues(ticks).tickFormat(d3.format('.2f')).tickSize(2).tickSizeOuter(0).tickPadding(2))
    let yg = svg.append('g').attr('transform', 'translate(377.3,0)')
        .call(d3.axisLeft(y).tickSize(2).tickSizeOuter(0).tickPadding(3.5))
    xg.select('.domain').remove()
    yg.select('.domain').remove()
    xg.selectAll('line').attr('stroke', '#555').attr('stroke-width', 0.6)
    yg.selectAll('line').attr('stroke', '#555').attr('stroke-width', 0.6)
    xg.selectAll('text').attr('font-size', 8.7).attr('fill', '#333')
    yg.selectAll('text').attr('font-size', 9.65).attr('fill', '#222')

    addText(282.7, 716, '10W *RNase T2* KI-F1 VS  20W *RNase T2* KI-F1', 10.9)
    addText(438, 730.7, 'Top 20 of GO enrichment', 9.8, 'middle')
    addText(437.7, 989.3, 'Rich factor', 9.6, 'middle')

    // colour legend
    let legendY = d3.scaleLinear().domain([3.4, 14]).range([839.3, 802.7])
    let grad = svg.append('defs').append('linearGradient').attr('id', 'pkey').attr('x1', 0).attr('x2', 0).attr('y1', 1).attr('y2', 0)
    colour.domain().forEach(v => {
        grad.append('stop').attr('offset', ((v - 3.4) / 10.6 * 100) + '%').attr('stop-color', colour(v))
    })
    svg.append('rect').attr('x', 520.3).attr('y', 802.7).attr('width', 7.3).attr('height', 36.6).attr('fill', 'url(#pkey)')
    let title = addSub(svg, '-log', '10', '(P - Value)', 8.4)
    title.attr('x', 519).attr('y', 796.7)
    let lg = svg.append('g').attr('transform', 'translate(527.6,0)')
        .call(d3.axisRight(legendY).tickValues([6, 9, 12]).tickFormat(d => d).tickSize(0).tickPadding(3))
    lg.select('.domain').remove()
    lg.selectAll('text').attr('font-size', 8.4).attr('fill', '#222')

    // size legend
    addText(519, 866.7, 'Gene number', 8.4)
    let sizes = [10, 20]
    let sizeY = d3.scalePoint().domain(sizes).range([877.7, 887.3])
    sizes.forEach(v => {
        svg.append('circle').attr('cx', 523.7).attr('cy', sizeY(v)).attr('r', r(v)).attr('fill', '#000')
        addText(531.7, sizeY(v) + 3, String(v), 8.4)
    })
}
drawBubbles()

// panel letters
let panelLetters = ['A','B','C','D','E','F','G','H']
let letterX = [6, 236, 482.3, 6, 179, 353, 353, 6]
let letterY = [14, 14, 14, 301.7, 301.7, 301.7, 488, 708]
panelLetters.forEach((l, i) => addText(letterX[i], letterY[i], l, 17))
</script>
</body>
</html>
